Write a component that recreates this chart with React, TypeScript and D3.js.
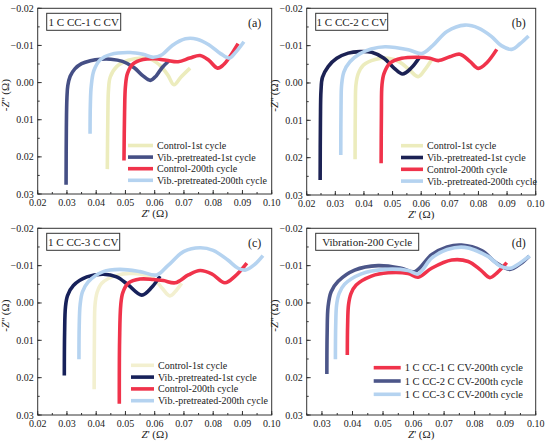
import React from "react";
import * as d3 from "d3";

type P = [number, number];

// Panel (a) 1 C CC-1 C CV
const aControl1: P[] = [[0.0438,0.0233],[0.0440,0.008],[0.0442,0.002],[0.0448,-0.0015],[0.047,-0.0043],[0.051,-0.0060],[0.0555,-0.0066],[0.059,-0.0062],[0.062,-0.0045],[0.0645,-0.0020],[0.0666,0.0006],[0.069,-0.0015],[0.0721,-0.0039]];
const aVib1: P[] = [[0.0297,0.0275],[0.0298,0.012],[0.0300,0.004],[0.0303,0.0008],[0.0311,-0.0017],[0.0327,-0.0037],[0.035,-0.0051],[0.038,-0.0059],[0.0415,-0.0063],[0.045,-0.0063],[0.049,-0.0057],[0.053,-0.0040],[0.056,-0.0018],[0.0585,-0.0006],[0.0605,-0.0018],[0.0625,-0.0040],[0.0648,-0.0058]];
const aControl200: P[] = [[0.0495,0.021],[0.0497,0.008],[0.0500,0.001],[0.0507,-0.0025],[0.0527,-0.0051],[0.056,-0.0062],[0.060,-0.0064],[0.064,-0.0060],[0.068,-0.0056],[0.072,-0.0066],[0.0755,-0.0073],[0.0785,-0.0060],[0.0815,-0.0039],[0.0835,-0.0048],[0.0857,-0.0070],[0.0885,-0.0105]];
const aVib200: P[] = [[0.0379,0.0138],[0.0380,0.006],[0.0383,0.001],[0.0392,-0.0032],[0.0413,-0.0061],[0.0450,-0.0076],[0.0516,-0.0081],[0.056,-0.0076],[0.0595,-0.0068],[0.0625,-0.0075],[0.066,-0.0100],[0.0705,-0.0118],[0.0745,-0.0117],[0.0785,-0.0102],[0.0825,-0.0078],[0.0855,-0.0066],[0.0875,-0.0080],[0.0905,-0.0110]];

// Panel (b) 1 C CC-2 C CV
const bControl1: P[] = [[0.0369,0.0204],[0.0370,0.006],[0.0372,0.0005],[0.0380,-0.0025],[0.0398,-0.0048],[0.0439,-0.0063],[0.0485,-0.0066],[0.0525,-0.0056],[0.056,-0.0034],[0.059,-0.0017],[0.0615,-0.0038],[0.0637,-0.0063]];
const bVib1: P[] = [[0.0247,0.026],[0.0248,0.010],[0.0250,0.002],[0.0255,-0.0015],[0.0275,-0.0044],[0.0305,-0.0066],[0.0345,-0.0080],[0.0386,-0.0084],[0.0427,-0.0082],[0.047,-0.0066],[0.0505,-0.0040],[0.0535,-0.0024],[0.0565,-0.0040],[0.0596,-0.0071]];
const bControl200: P[] = [[0.0460,0.0215],[0.0461,0.008],[0.0463,0.0005],[0.0470,-0.0025],[0.0491,-0.0053],[0.0532,-0.0066],[0.059,-0.0069],[0.063,-0.0066],[0.066,-0.0060],[0.070,-0.0070],[0.0735,-0.0077],[0.077,-0.0058],[0.080,-0.0039],[0.083,-0.0055],[0.0864,-0.0090]];
const bVib200: P[] = [[0.0319,0.0193],[0.0320,0.006],[0.0322,0.0005],[0.0330,-0.0030],[0.0351,-0.0057],[0.0385,-0.0078],[0.0425,-0.0091],[0.0474,-0.0097],[0.0555,-0.0089],[0.0602,-0.0079],[0.064,-0.0100],[0.069,-0.0138],[0.0753,-0.0155],[0.0800,-0.0147],[0.0845,-0.0125],[0.088,-0.0100],[0.0916,-0.0090],[0.0945,-0.0105],[0.0975,-0.0126]];

// Panel (c) 1 C CC-3 C CV
const cControl1: P[] = [[0.0393,0.0231],[0.0394,0.008],[0.0396,0.0005],[0.0403,-0.0028],[0.0419,-0.0053],[0.047,-0.0074],[0.0527,-0.0079],[0.0595,-0.0066],[0.0625,-0.0040],[0.0652,-0.0019],[0.0675,-0.0035],[0.0692,-0.0053]];
const cVib1: P[] = [[0.0291,0.0194],[0.0292,0.008],[0.0295,0.001],[0.0302,-0.0020],[0.0322,-0.0047],[0.0368,-0.0070],[0.0424,-0.0077],[0.047,-0.0070],[0.051,-0.0048],[0.0556,-0.0021],[0.0590,-0.0042],[0.0618,-0.0072]];
const cControl200: P[] = [[0.0479,0.027],[0.0480,0.010],[0.0484,0.0005],[0.0491,-0.0028],[0.051,-0.0053],[0.055,-0.0064],[0.0595,-0.0063],[0.063,-0.0060],[0.067,-0.0054],[0.0715,-0.0075],[0.0755,-0.0087],[0.0795,-0.0078],[0.084,-0.0054],[0.0875,-0.0072],[0.0915,-0.0107]];
const cVib200: P[] = [[0.0341,0.0151],[0.0342,0.006],[0.0345,0.0005],[0.0353,-0.0030],[0.0373,-0.0057],[0.0424,-0.0084],[0.0481,-0.0090],[0.055,-0.0084],[0.0607,-0.0075],[0.0645,-0.0100],[0.070,-0.0138],[0.0755,-0.0148],[0.0800,-0.0141],[0.0850,-0.0115],[0.0885,-0.0093],[0.0909,-0.0088],[0.0940,-0.0102],[0.0970,-0.0127]];

// Panel (d) Vibration-200 Cycle
const dCV1: P[] = [[0.0383,0.0139],[0.0384,0.006],[0.0387,0.0005],[0.0395,-0.0025],[0.0412,-0.0048],[0.0462,-0.0072],[0.0517,-0.0081],[0.0582,-0.0079],[0.0615,-0.0069],[0.0659,-0.0093],[0.0725,-0.0115],[0.0779,-0.0111],[0.0820,-0.0088],[0.0850,-0.0068],[0.0875,-0.0082],[0.0905,-0.0108]];
const dCV2: P[] = [[0.0316,0.019],[0.0317,0.008],[0.0320,0.001],[0.0330,-0.0030],[0.0353,-0.0058],[0.0407,-0.0088],[0.0484,-0.0100],[0.0560,-0.0093],[0.0604,-0.0084],[0.0659,-0.0129],[0.0710,-0.0150],[0.0757,-0.0155],[0.0823,-0.0140],[0.0870,-0.0108],[0.0915,-0.0090],[0.0950,-0.0105],[0.0979,-0.0126]];
const dCV3: P[] = [[0.0344,0.0151],[0.0345,0.006],[0.0348,0.0005],[0.0356,-0.0025],[0.0374,-0.0050],[0.0429,-0.0078],[0.0506,-0.0090],[0.0582,-0.0087],[0.0615,-0.0078],[0.0659,-0.0120],[0.0710,-0.0143],[0.0768,-0.0149],[0.0845,-0.0124],[0.0885,-0.0098],[0.0916,-0.0093],[0.0950,-0.0108],[0.0980,-0.0126]];

const xTicksA = [0.02, 0.03, 0.04, 0.05, 0.06, 0.07, 0.08, 0.09, 0.1];
const xTicksD = [0.03, 0.04, 0.05, 0.06, 0.07, 0.08, 0.09, 0.1];
const yTicks = [-0.02, -0.01, 0, 0.01, 0.02, 0.03];

const legend1 = ["Control-1st cycle", "Vib.-pretreated-1st cycle", "Control-200th cycle", "Vib.-pretreated-200th cycle"];
const legendD = ["1 C CC-1 C CV-200th cycle", "1 C CC-2 C CV-200th cycle", "1 C CC-3 C CV-200th cycle"];

const YELLOW = "#ececbd";
const RED = "#f0334b";
const LBLUE = "#b5d3f0";
const FONT = "'Liberation Serif', 'Times New Roman', serif";

interface PanelProps {
  left: number; right: number; top: number; bottom: number;
  xDomain: [number, number]; xTicks: number[];
  series: P[][]; colors: string[]; labels: string[];
  title: string; letter: string;
  legendX: number; legendY: number; legendStep: number; legendLen: number; legendFont: number;
  boxW: number;
}

function Panel(p: PanelProps) {
  const x = d3.scaleLinear().domain(p.xDomain).range([p.left, p.right]);
  const y = d3.scaleLinear().domain([-0.02, 0.03]).range([p.top, p.bottom]);
  const line = d3.line<P>().x((d) => x(d[0])).y((d) => y(d[1])).curve(d3.curveCatmullRom.alpha(0.5));
  const xMinor: number[] = [];
  for (let v = p.xDomain[0]; v <= p.xDomain[1] + 1e-9; v += 0.005) xMinor.push(v);
  const yMinor: number[] = [];
  for (let v = -0.02; v <= 0.03 + 1e-9; v += 0.005) yMinor.push(v);
  const fmtY = (v: number) => (v < 0 ? "\u2212" : "") + Math.abs(v).toFixed(2);
  const fmtX = (v: number) => v.toFixed(2);
  const cx = (p.left + p.right) / 2;
  const cy = (p.top + p.bottom) / 2;
  return (
    <g fontFamily={FONT} fill="#222">
      {p.series.map((s, i) => (
        <path key={i} d={line(s) || ""} fill="none" stroke={p.colors[i]} strokeWidth={3.6} strokeLinecap="butt" strokeLinejoin="round" />
      ))}
      <rect x={p.left} y={p.top} width={p.right - p.left} height={p.bottom - p.top} fill="none" stroke="#333" strokeWidth={1} />
      {xMinor.map((v, i) => (
        <line key={"xm" + i} x1={x(v)} x2={x(v)} y1={p.bottom} y2={p.bottom - 2} stroke="#333" />
      ))}
      {p.xTicks.map((v, i) => (
        <g key={"xt" + i}>
          <line x1={x(v)} x2={x(v)} y1={p.bottom} y2={p.bottom - 4} stroke="#333" />
          <text x={x(v)} y={p.bottom + 12} fontSize={10} textAnchor="middle">{fmtX(v)}</text>
        </g>
      ))}
      {yMinor.map((v, i) => (
        <line key={"ym" + i} x1={p.left} x2={p.left + 2} y1={y(v)} y2={y(v)} stroke="#333" />
      ))}
      {yTicks.map((v, i) => (
        <g key={"yt" + i}>
          <line x1={p.left} x2={p.left + 4} y1={y(v)} y2={y(v)} stroke="#333" />
          <text x={p.left - 4} y={y(v) + 3.5} fontSize={10} textAnchor="end">{fmtY(v)}</text>
        </g>
      ))}
      <text x={cx} y={p.bottom + 23} fontSize={11} textAnchor="middle">
        <tspan fontStyle="italic">Z</tspan>' (Ω)
      </text>
      <text transform={`translate(${p.left - 29},${cy - 6}) rotate(-90)`} fontSize={11} textAnchor="middle">
        -<tspan fontStyle="italic">Z</tspan>'' (Ω)
      </text>
      <rect x={p.left + 9} y={p.top + 5} width={p.boxW} height={17} fill="#fff" stroke="#333" strokeWidth={1} />
      <text x={p.left + 9 + p.boxW / 2} y={p.top + 17.5} fontSize={11} textAnchor="middle">{p.title}</text>
      <text x={p.right - 17} y={p.top + 19} fontSize={12} textAnchor="middle">{p.letter}</text>
      {p.labels.map((l, i) => (
        <g key={"lg" + i}>
          <line x1={p.legendX} x2={p.legendX + p.legendLen} y1={p.legendY + i * p.legendStep} y2={p.legendY + i * p.legendStep} stroke={p.colors[i]} strokeWidth={3.6} />
          <text x={p.legendX + p.legendLen + 4} y={p.legendY + i * p.legendStep + 3.5} fontSize={p.legendFont}>{l}</text>
        </g>
      ))}
    </g>
  );
}

export default function App() {
  return (
    <svg width={550} height={445} style={{ position: "absolute", left: 0, top: 0, background: "#fff" }}>
      <rect width={550} height={445} fill="#fff" />
      <Panel left={37.7} right={271.7} top={8.3} bottom={194} xDomain={[0.02, 0.1]} xTicks={xTicksA}
        series={[aControl1, aVib1, aControl200, aVib200]} colors={[YELLOW, "#454f85", RED, LBLUE]} labels={legend1}
        title="1 C CC-1 C CV" letter="(a)" legendX={128} legendY={145.5} legendStep={11.6} legendLen={25} legendFont={10} boxW={74} />
      <Panel left={306.7} right={535.7} top={8.3} bottom={195} xDomain={[0.02, 0.1]} xTicks={xTicksA}
        series={[bControl1, bVib1, bControl200, bVib200]} colors={[YELLOW, "#1c2254", RED, LBLUE]} labels={legend1}
        title="1 C CC-2 C CV" letter="(b)" legendX={401} legendY={145.7} legendStep={11.8} legendLen={22} legendFont={10} boxW={72} />
      <Panel left={37.7} right={271.7} top={228.3} bottom={415} xDomain={[0.02, 0.1]} xTicks={xTicksA}
        series={[cControl1, cVib1, cControl200, cVib200]} colors={["#f3f0d0", "#17215a", RED, LBLUE]} labels={legend1}
        title="1 C CC-3 C CV" letter="(c)" legendX={131} legendY={365.3} legendStep={11.8} legendLen={23} legendFont={10} boxW={73} />
      <Panel left={306.7} right={535.7} top={228.3} bottom={415} xDomain={[0.025, 0.1]} xTicks={xTicksD}
        series={[dCV1, dCV2, dCV3]} colors={[RED, "#4c5689", LBLUE]} labels={legendD}
        title="Vibration-200 Cycle" letter="(d)" legendX={373.7} legendY={367.7} legendStep={13.3} legendLen={27} legendFont={10.5} boxW={103} />
    </svg>
  );
}
